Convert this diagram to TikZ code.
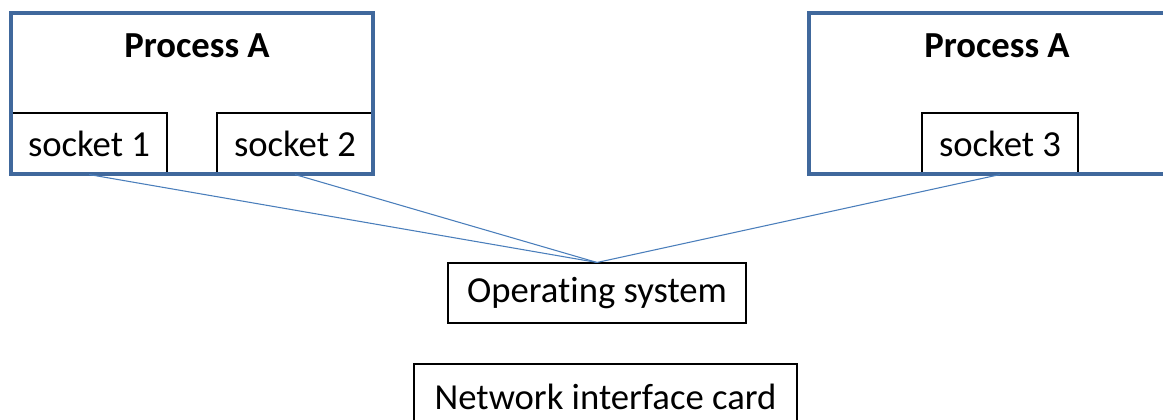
\documentclass[tikz,border=0pt]{standalone}
\usepackage{fontspec}
\setmainfont[Ligatures=NoCommon]{Carlito}
\usetikzlibrary{positioning}
\definecolor{procblue}{RGB}{64,104,156}
\definecolor{wireblue}{RGB}{74,126,187}

\begin{document}
\begin{tikzpicture}[x=0.75pt,y=0.75pt,
  sock/.style={draw=black,fill=white,line width=0.8pt,minimum width=117pt,
    minimum height=45.75pt,inner sep=0pt,font=\fontsize{27.5}{32}\selectfont},
  proc/.style={draw=procblue,line width=2.4pt,inner sep=0pt},
  title/.style={font=\fontsize{27.5}{32}\selectfont\bfseries},
  sysbox/.style={draw=black,line width=0.8pt,inner sep=0pt,
    font=\fontsize{27.5}{32}\selectfont},
  wire/.style={draw=wireblue,line width=0.8pt}]
  \useasboundingbox (0,0) rectangle (1163,419);
  % sockets
  \node[sock](s1) at (89,275.5){socket 1};
  \node[sock](s2) at (295,275.5){socket 2};
  \node[sock](s3) at (1000,275.5){socket 3};
  % processes
  \node[proc,minimum width=271.5pt,minimum height=120.75pt](pl) at (192,325.5){};
  \node[title,below=13pt of pl.north,xshift=3.75pt](tl){Process A};
  \node[proc,minimum width=274.5pt,minimum height=120.75pt](pr) at (992,325.5){};
  \node[title,below=13pt of pr.north,xshift=3.75pt](tr){Process A};
  % system
  \node[sysbox,minimum width=223.5pt,minimum height=45pt](os) at (597,126){Operating system};
  \node[sysbox,minimum width=287.25pt,minimum height=49.5pt](nic) at (605.5,22){Network interface card};
  \draw[wire] (s1.south) -- (os.north);
  \draw[wire] (s2.south) -- (os.north);
  \draw[wire] (s3.south) -- (os.north);
\end{tikzpicture}
\end{document}
